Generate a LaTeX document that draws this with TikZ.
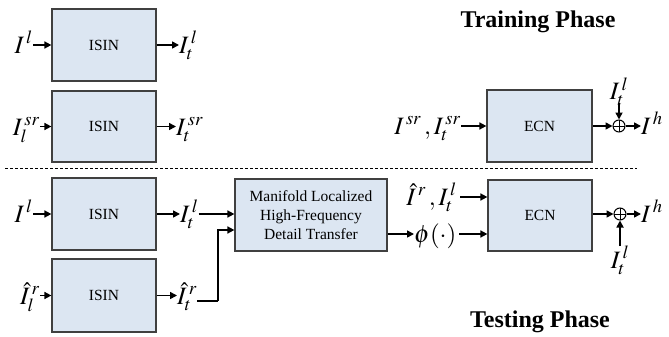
\documentclass[tikz,border=0pt]{standalone}
\usepackage{mathptmx}
\usepackage{fontspec}
\setmainfont{Liberation Serif}
\usetikzlibrary{arrows.meta}
\definecolor{boxfill}{RGB}{220,230,242}
\definecolor{boxline}{RGB}{64,64,64}
\begin{document}
\begin{tikzpicture}[x=1pt,y=-1pt,>={Triangle[length=7pt,width=7pt]}]
    % Define style for blocks, labels and adders
    \tikzstyle{block} = [draw=boxline, line width=1.2pt, rectangle, fill=boxfill, align=center, font=\fontsize{15.5}{19}\selectfont, inner sep=0pt]
    \tikzstyle{lbl} = [inner sep=0pt, font=\fontsize{25}{27}\selectfont]
    \tikzstyle{adder} = [draw, circle, line width=1pt, minimum size=12pt, inner sep=0pt,
      path picture={\draw[line width=0.8pt] (path picture bounding box.north) -- (path picture bounding box.south)
        (path picture bounding box.west) -- (path picture bounding box.east);}]
    \tikzstyle{title} = [font=\fontsize{24}{26}\selectfont\bfseries]
    \tikzstyle{flow} = [->, line width=1.6pt]

    \useasboundingbox (0,0) rectangle (669,337);

    % Training phase
    \node(isinA)[block, minimum width=104pt, minimum height=72pt] at (104,45) {ISIN};
    \node(isinB)[block, minimum width=104pt, minimum height=71pt] at (104,126.5) {ISIN};
    \node(inA)[lbl, anchor=base east] at (33,53) {$I^{\,l}$};
    \node(outA)[lbl, anchor=base west] at (179,53) {$I_{t}^{\,l}$};
    \node(inB)[lbl, anchor=base east] at (40,135) {$I_{l}^{\,sr}$};
    \node(outB)[lbl, anchor=base west] at (176,135) {$I_{t}^{\,sr}$};
    \draw[flow] (inA.east |- isinA) -- (isinA.west);
    \draw[flow] (isinA.east) -- (outA.west |- isinA);
    \draw[flow] (inB.east |- isinB) -- (isinB.west);
    \draw[flow] (isinB.east) -- (outB.west |- isinB);

    \node(ecnA)[block, minimum width=105pt, minimum height=72pt] at (539.5,126) {ECN};
    \node(inE)[lbl, anchor=base east] at (461,134) {$I^{\,sr}\,,I_{t}^{\,sr}$};
    \node(plusA)[adder] at (619,126) {};
    \node(topA)[lbl, anchor=south] at (619,106) {$I_{t}^{\,l}$};
    \node(outE)[lbl, anchor=base west] at (641,134) {$I^{\,h}$};
    \draw[flow] (inE.east |- ecnA) -- (ecnA.west);
    \draw[flow] (ecnA.east) -- (plusA.west);
    \draw[flow] (plusA.east) -- (outE.west |- plusA);
    \draw[flow] (topA.south) ++(0,-3) -- (plusA.north);

    \node[title] at (538,22) {Training Phase};

    \draw[dashed, line width=0.8pt, dash pattern=on 3pt off 2pt] (5,168) -- (637,168);

    % Testing phase
    \node(isinC)[block, minimum width=104pt, minimum height=72pt] at (104,214) {ISIN};
    \node(isinD)[block, minimum width=104pt, minimum height=73pt] at (104,295.5) {ISIN};
    \node(inC)[lbl, anchor=base east] at (33,222) {$I^{\,l}$};
    \node(outC)[lbl, anchor=base west] at (180,222) {$I_{t}^{\,l}$};
    \node(inD)[lbl, anchor=base east] at (40,304) {$\hat{I}_{l}^{\,r}$};
    \node(outD)[lbl, anchor=base west] at (177,304) {$\hat{I}_{t}^{\,r}$};
    \draw[flow] (inC.east |- isinC) -- (isinC.west);
    \draw[flow] (isinC.east) -- (outC.west |- isinC);
    \draw[flow] (inD.east |- isinD) -- (isinD.west);
    \draw[flow] (isinD.east) -- (outD.west |- isinD);

    \node(mlt)[block, minimum width=152pt, minimum height=72pt] at (311,215)
      {Manifold Localized\\High-Frequency\\Detail Transfer};
    \coordinate(bendD) at (218,301);
    \draw[flow] (outC.east |- 0,214) -- (mlt.west |- 0,214);
    \draw[line width=1.6pt] (outD.east |- bendD) -- (bendD);
    \draw[flow] (bendD) -- (bendD |- 0,230) -- (mlt.west |- 0,230);

    \node(ecnB)[block, minimum width=104pt, minimum height=71pt] at (540,215.5) {ECN};
    \node(inF)[lbl, anchor=base east] at (457,205) {$\hat{I}^{\,r}\,,I_{t}^{\,l}$};
    \node(phi)[lbl, anchor=base west] at (414,242) {$\phi(\cdot)$};
    \coordinate(phiOut) at (459,234);
    \draw[flow] (inF.east |- 0,197) ++(3,0) -- (ecnB.west |- 0,197);
    \draw[flow] (mlt.east |- phiOut) -- (phi.west |- phiOut);
    \draw[flow] (phiOut) -- (ecnB.west |- phiOut);

    \node(plusB)[adder] at (620,214) {};
    \node(botB)[lbl, anchor=north] at (620,246) {$I_{t}^{\,l}$};
    \node(outF)[lbl, anchor=base west] at (641,222) {$I^{\,h}$};
    \draw[flow] (ecnB.east |- plusB) -- (plusB.west);
    \draw[flow] (plusB.east) -- (outF.west |- plusB);
    \draw[flow] (botB.north) -- (plusB.south);

    \node[title] at (540,322) {Testing Phase};
\end{tikzpicture}
\end{document}
